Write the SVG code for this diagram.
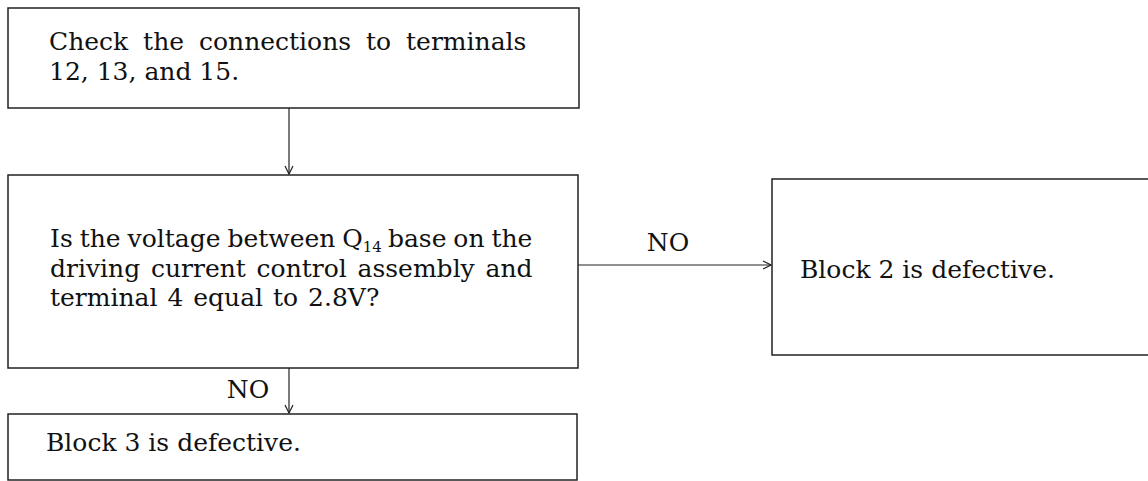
<svg xmlns="http://www.w3.org/2000/svg" width="1148" height="481" viewBox="0 0 1148 481">
<defs>
<style>
.box{fill:none;stroke:#222;stroke-width:1.5}
.t{font-family:"DejaVu Serif","Liberation Serif",serif;font-size:25px;fill:#111}
.sub{font-size:15px}
.c{stroke:#222;stroke-width:1.2;fill:none}
</style>
<marker id="ah" markerWidth="10" markerHeight="10" refX="9" refY="5" orient="auto" markerUnits="userSpaceOnUse">
<path d="M1,1 L9,5 L1,9" fill="none" stroke="#222" stroke-width="1.2"/>
</marker>
</defs>
<rect width="1148" height="481" fill="#fff"/>
<g id="n1">
<rect class="box" x="8" y="8" width="571" height="100"/>
<text class="t" x="49" y="50" word-spacing="7">Check the connections to terminals</text>
<text class="t" x="49" y="80">12, 13, and 15.</text>
</g>
<g id="n2">
<rect class="box" x="8" y="175" width="570" height="193"/>
<text class="t" x="50" y="247" word-spacing="-1">Is the voltage between Q<tspan class="sub" dy="5">14</tspan><tspan dy="-5" dx="6">base on the</tspan></text>
<text class="t" x="50" y="277" word-spacing="2.8">driving current control assembly and</text>
<text class="t" x="50" y="306" word-spacing="2">terminal 4 equal to 2.8V?</text>
</g>
<g id="n3">
<rect class="box" x="772" y="179" width="380" height="176"/>
<text class="t" x="800" y="278">Block 2 is defective.</text>
</g>
<g id="n4">
<rect class="box" x="8" y="414" width="569" height="66"/>
<text class="t" x="46" y="451">Block 3 is defective.</text>
</g>
<g id="connectors">
<line class="c" x1="289" y1="108" x2="289" y2="174" marker-end="url(#ah)"/>
<line class="c" x1="578" y1="265" x2="771" y2="265" marker-end="url(#ah)"/>
<line class="c" x1="289" y1="368" x2="289" y2="413" marker-end="url(#ah)"/>
<text class="t" x="668" y="251" text-anchor="middle">NO</text>
<text class="t" x="248" y="398" text-anchor="middle">NO</text>
</g>
</svg>
